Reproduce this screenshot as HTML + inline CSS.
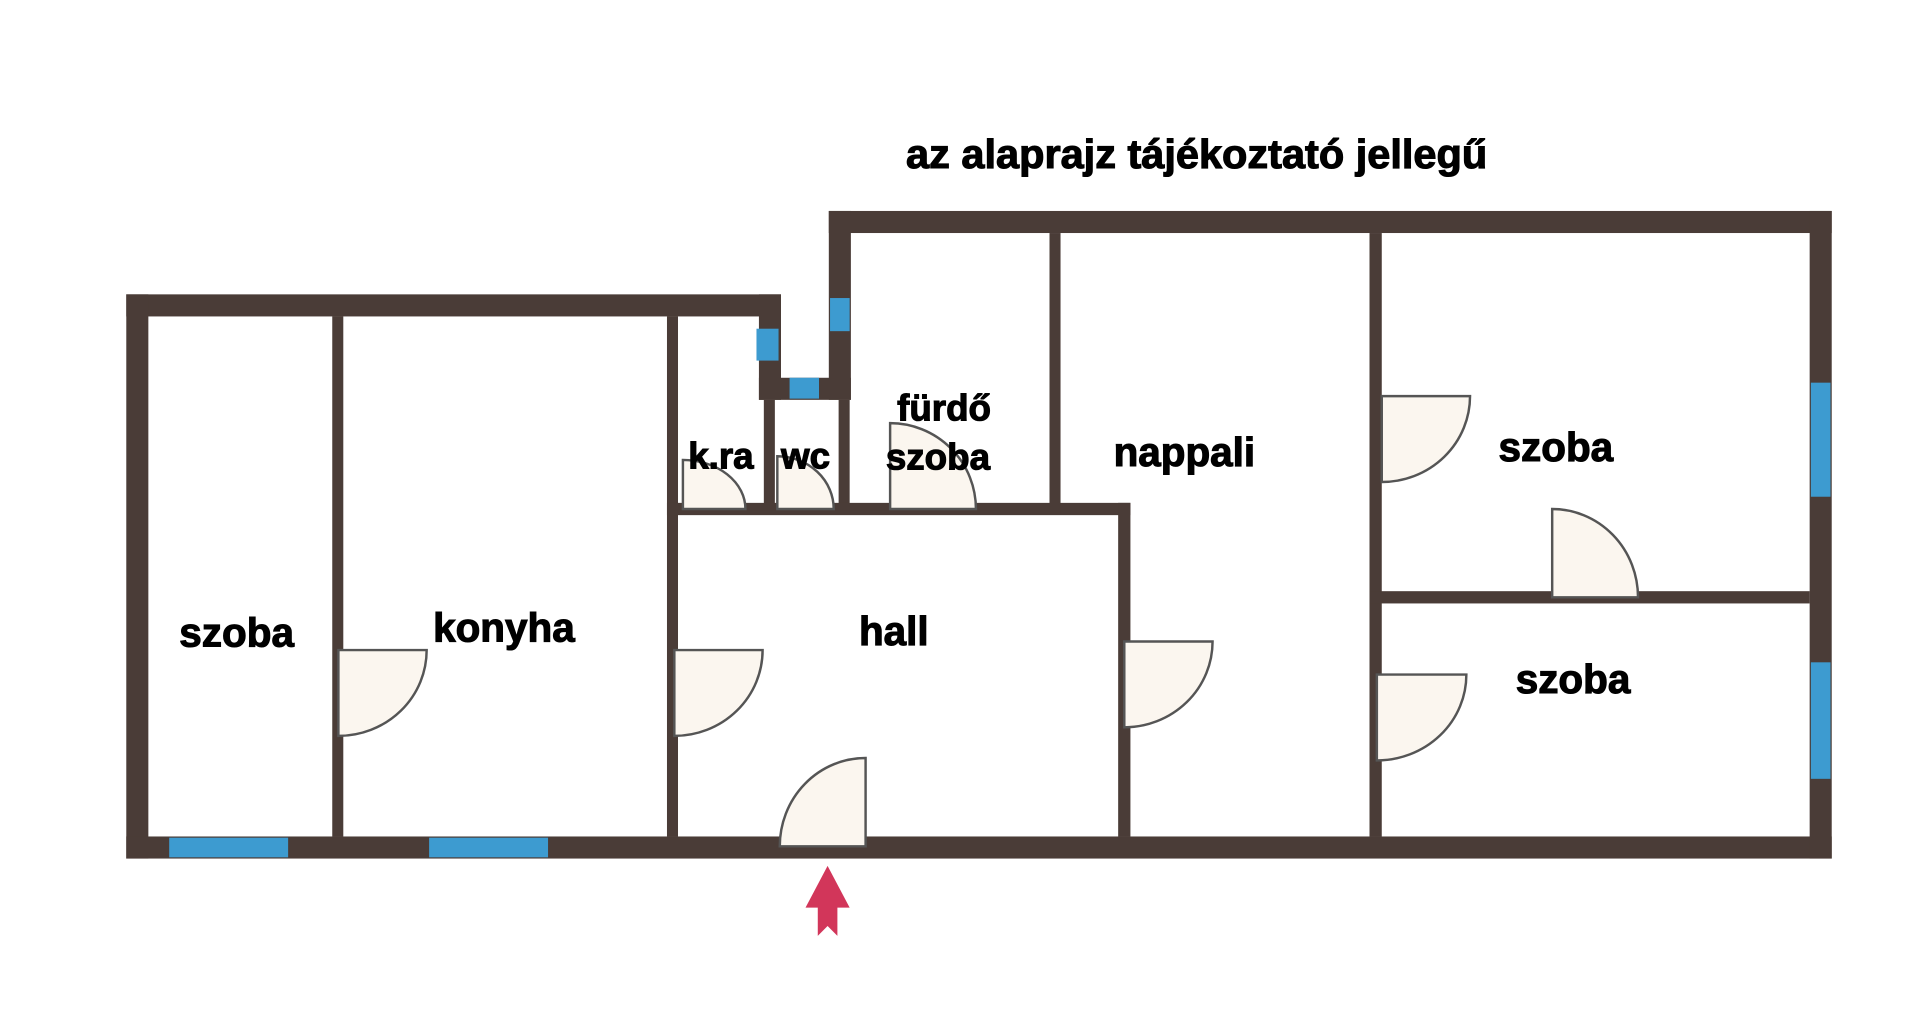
<!DOCTYPE html>
<html><head><meta charset="utf-8"><style>
html,body{margin:0;padding:0;background:#fff;}
svg{display:block;}
text{font-family:"Liberation Sans",sans-serif;font-weight:bold;fill:#000;stroke:#000;stroke-width:0.9;text-anchor:middle;}
</style></head><body>
<svg width="1920" height="1018" viewBox="0 0 1566 830" preserveAspectRatio="none" xmlns="http://www.w3.org/2000/svg">
<rect width="1566" height="830" fill="#fff"/>
<text x="976" y="137" font-size="33" textLength="474" lengthAdjust="spacingAndGlyphs">az alaprajz tájékoztató jellegű</text>
<g fill="#4a3c37">
<rect x="103" y="240" width="534" height="18"/>
<rect x="103" y="240" width="18" height="460"/>
<rect x="103" y="682" width="1391" height="18"/>
<rect x="676" y="172" width="818" height="18"/>
<rect x="1476" y="172" width="18" height="528"/>
<rect x="676" y="172" width="18" height="154"/>
<rect x="619" y="240" width="18" height="86"/>
<rect x="619" y="308" width="75" height="18"/>
<rect x="271" y="258" width="9" height="424"/>
<rect x="544" y="258" width="9" height="424"/>
<rect x="623" y="326" width="9" height="92"/>
<rect x="684" y="326" width="9" height="92"/>
<rect x="544" y="410" width="378" height="10"/>
<rect x="856" y="190" width="9" height="228"/>
<rect x="912" y="410" width="10" height="272"/>
<rect x="1117" y="190" width="10" height="492"/>
<rect x="1117" y="482" width="359" height="10"/>
</g>
<g fill="#3d9bd0">
<rect x="138" y="683" width="97" height="16"/>
<rect x="350" y="683" width="97" height="16"/>
<rect x="1477" y="312" width="16" height="93"/>
<rect x="1477" y="540" width="16" height="95"/>
<rect x="617" y="268" width="18" height="26"/>
<rect x="677" y="243" width="16" height="27"/>
<rect x="644" y="308" width="24" height="17"/>
</g>
<g fill="#fbf6ef" stroke="#555" stroke-width="2">
<path d="M276,530 L348,530 A72,70 0 0 1 276,600 Z"/>
<path d="M550,530 L622,530 A72,70 0 0 1 550,600 Z"/>
<path d="M917,523 L989,523 A72,70 0 0 1 917,593 Z"/>
<path d="M1123,550 L1196,550 A73,70 0 0 1 1123,620 Z"/>
<path d="M1127,323 L1199,323 A72,70 0 0 1 1127,393 Z"/>
<path d="M1266,487 L1266,415 A70,72 0 0 1 1336,487 Z"/>
<path d="M706,690 L706,618 A70,72 0 0 0 636,690 Z"/>
<path d="M726,415 L726,345 A70,70 0 0 1 796,415 Z"/>
<path d="M557,415 L557,375 A51,40 0 0 1 608,415 Z"/>
<path d="M634,415 L634,372 A46,43 0 0 1 680,415 Z"/>
</g>
<path d="M675,706 L693,740 L683,740 L683,763 L675,755 L667,763 L667,740 L657,740 Z" fill="#d2365a"/>
<g font-size="33">
<text x="193" y="527">szoba</text>
<text x="411" y="523">konyha</text>
<text x="729" y="526">hall</text>
<text x="588" y="382" font-size="30">k.ra</text>
<text x="657" y="382" font-size="30">wc</text>
<text x="770" y="343" font-size="30">fürdő</text>
<text x="765" y="383" font-size="30">szoba</text>
<text x="966" y="380">nappali</text>
<text x="1269" y="376">szoba</text>
<text x="1283" y="565">szoba</text>
</g>
</svg>
</body></html>
